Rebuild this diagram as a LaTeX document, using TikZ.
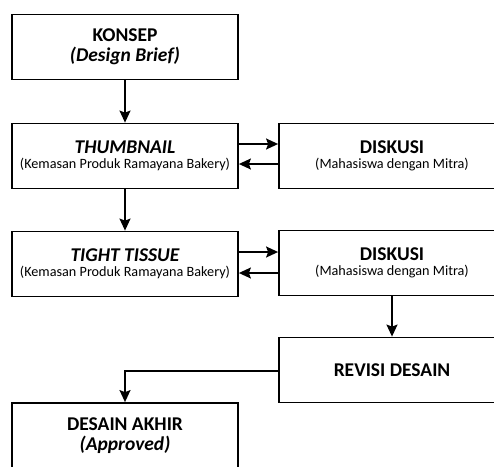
\documentclass[tikz,border=0pt]{standalone}
\usepackage{fontspec}
\setmainfont{Carlito}
\usetikzlibrary{arrows.meta}
\tikzset{
  box/.style={draw=black, line width=1.8pt, minimum width=226pt, minimum height=65pt, inner sep=0pt, align=center, fill=white},
  arr/.style={line width=1.5pt, -{Stealth[length=12pt,width=11pt,inset=2pt]}},
}
\newcommand{\bigt}{\fontsize{19.5}{19}\selectfont\bfseries}
\newcommand{\smallt}{\fontsize{14.2}{19}\selectfont}
\begin{document}
\begin{tikzpicture}[x=1pt,y=-1pt]
\useasboundingbox (0,0) rectangle (494,466);
\clip (0,0) rectangle (494,466);
\node[box] (konsep) at (125,47) {\bigt KONSEP\\[4pt]\bigt\itshape (Design Brief)};
\node[box] (thumb) at (125,156) {\bigt\itshape THUMBNAIL\\[3pt]\smallt (Kemasan Produk Ramayana Bakery)};
\node[box] (tight) at (125,264) {\bigt\itshape TIGHT TISSUE\\[3pt]\smallt (Kemasan Produk Ramayana Bakery)};
\node[box] (disk1) at (392,156) {\bigt DISKUSI\\[3pt]\smallt (Mahasiswa dengan Mitra)};
\node[box] (disk2) at (392,263) {\bigt DISKUSI\\[3pt]\smallt (Mahasiswa dengan Mitra)};
\node[box] (revisi) at (392,370) {\bigt REVISI DESAIN};
\node[box] (akhir) at (125,435.5) {\bigt DESAIN AKHIR\\[4pt]\bigt\itshape (Approved)};
\coordinate (bend) at (125,371);
\draw[arr] (konsep) -- (thumb);
\draw[arr] (thumb) -- (tight);
\draw[arr] (thumb.east |- 0,144) -- (disk1.west |- 0,144);
\draw[arr] (disk1.west |- 0,164) -- (thumb.east |- 0,164);
\draw[arr] (tight.east |- 0,252) -- (disk2.west |- 0,252);
\draw[arr] (disk2.west |- 0,273) -- (tight.east |- 0,273);
\draw[arr] (disk2) -- (revisi);
\draw[arr] (revisi.west |- bend) -- (bend) -- (akhir.north);
\end{tikzpicture}
\end{document}
